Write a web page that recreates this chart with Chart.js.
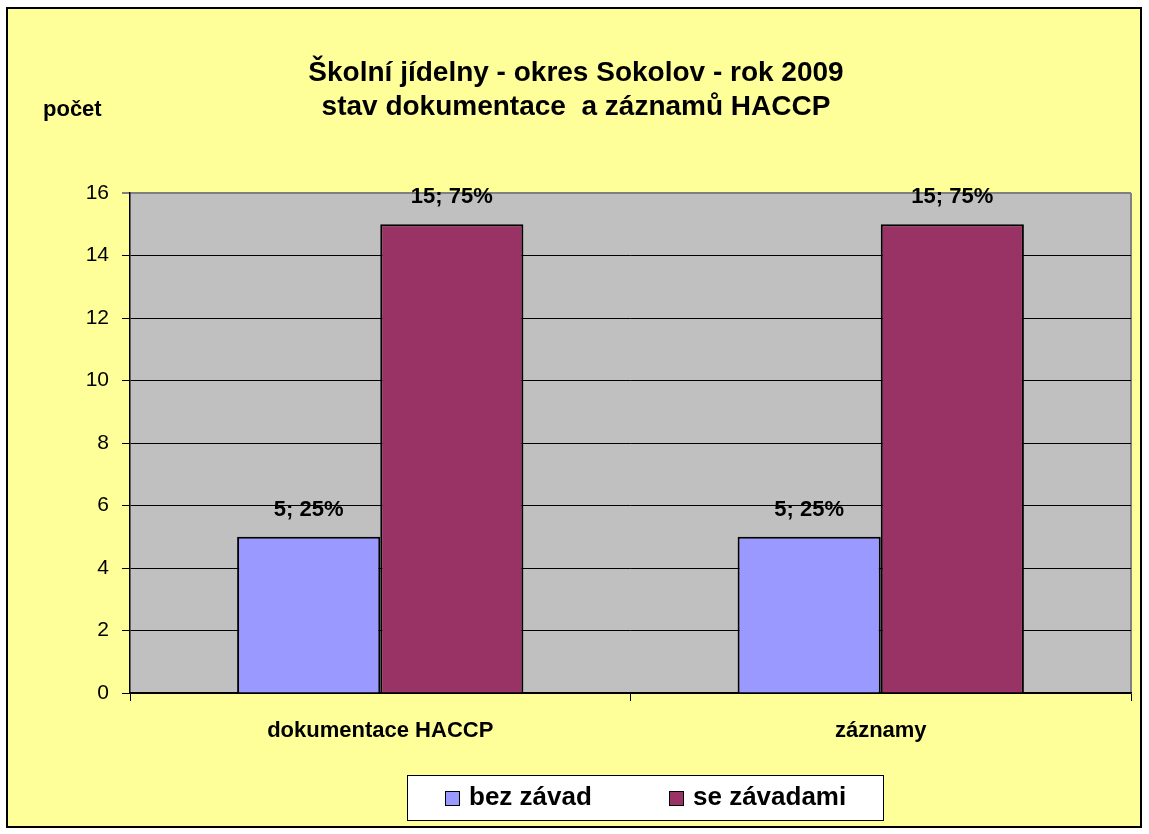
<!DOCTYPE html>
<html>
<head>
<meta charset="utf-8">
<script src="https://cdn.jsdelivr.net/npm/chart.js@4/dist/chart.umd.min.js"></script>
<style>
  html, body { margin: 0; padding: 0; background: #fff; }
  #wrap { width: 1149px; height: 834px; }
</style>
</head>
<body>
<div id="wrap"><canvas id="haccpChart" width="1149" height="834"></canvas></div>
<script>
const categories = ['dokumentace HACCP', 'záznamy'];
const bezZavad = [5, 5];
const seZavadami = [15, 15];
const yTicks = [0, 2, 4, 6, 8, 10, 12, 14, 16];
const titleLines = ['Školní jídelny - okres Sokolov - rok 2009', 'stav dokumentace  a záznamů HACCP'];
const yAxisLabel = 'počet';

const FONT = "Arial, 'Liberation Sans', sans-serif";

// background, outer frame, plot area, title and axis caption
const framePlugin = {
    id: 'frame',
    beforeDraw(chart) {
        const { ctx, chartArea: a } = chart;
        ctx.save();
        ctx.fillStyle = '#ffffff';
        ctx.fillRect(0, 0, chart.width, chart.height);
        ctx.fillStyle = '#ffff99';
        ctx.fillRect(7, 8, 1134, 819);
        ctx.strokeStyle = '#000';
        ctx.lineWidth = 2;
        ctx.strokeRect(7, 8, 1134, 819);
        ctx.fillStyle = '#c0c0c0';
        ctx.fillRect(a.left, a.top, a.right - a.left, a.bottom - a.top);
        ctx.strokeStyle = '#808080';
        ctx.lineWidth = 2;
        ctx.beginPath();
        ctx.moveTo(a.right, a.top);
        ctx.lineTo(a.right, a.bottom);
        ctx.stroke();

        ctx.fillStyle = '#000';
        ctx.textBaseline = 'middle';
        ctx.textAlign = 'center';
        ctx.font = 'bold 28px ' + FONT;
        titleLines.forEach((t, i) => ctx.fillText(t, 576, 73 + i * 34));

        ctx.font = 'bold 22px ' + FONT;
        ctx.textAlign = 'left';
        ctx.fillText(yAxisLabel, 43, 110);
        ctx.restore();
    }
};

// value labels "n; p%" and legend box
const labelPlugin = {
    id: 'labels',
    afterDatasetsDraw(chart) {
        const { ctx } = chart;
        const ds = chart.data.datasets;
        ctx.save();
        ctx.fillStyle = '#000';
        ctx.font = 'bold 22px ' + FONT;
        ctx.textAlign = 'center';
        ctx.textBaseline = 'middle';
        ds.forEach((d, i) => {
            chart.getDatasetMeta(i).data.forEach((bar, j) => {
                const total = ds.reduce((s, x) => s + x.data[j], 0);
                const pct = Math.round(d.data[j] / total * 100);
                ctx.fillText(d.data[j] + '; ' + pct + '%', bar.x, bar.y - 27);
            });
        });
        ctx.restore();
    },
    afterDraw(chart) {
        const { ctx } = chart;
        const ds = chart.data.datasets;
        ctx.save();
        ctx.fillStyle = '#fff';
        ctx.fillRect(407, 775, 476, 45);
        ctx.strokeStyle = '#000';
        ctx.lineWidth = 1;
        ctx.strokeRect(407.5, 775.5, 476, 45);
        const xs = [445, 669];
        ctx.font = 'bold 26px ' + FONT;
        ctx.textBaseline = 'middle';
        ctx.textAlign = 'left';
        ds.forEach((d, i) => {
            ctx.fillStyle = d.backgroundColor;
            ctx.fillRect(xs[i], 791, 14, 14);
            ctx.strokeStyle = '#000';
            ctx.strokeRect(xs[i] + 0.5, 791.5, 14, 14);
            ctx.fillStyle = '#000';
            ctx.fillText(d.label, xs[i] + 24, 798);
        });
        ctx.restore();
    }
};

new Chart(document.getElementById('haccpChart'), {
    type: 'bar',
    data: {
        labels: categories,
        datasets: [
            {
                label: 'bez závad',
                data: bezZavad,
                backgroundColor: '#9999ff',
                borderColor: '#000',
                borderWidth: 2
            },
            {
                label: 'se závadami',
                data: seZavadami,
                backgroundColor: '#993366',
                borderColor: '#000',
                borderWidth: 2
            }
        ]
    },
    options: {
        responsive: false,
        animation: false,
        layout: { padding: { left: 0, right: 18, top: 193, bottom: 0 } },
        datasets: {
            bar: { categoryPercentage: 0.572, barPercentage: 1 }
        },
        plugins: {
            legend: { display: false },
            tooltip: { enabled: false },
            title: { display: false }
        },
        scales: {
            x: {
                afterFit(scale) { scale.height = 141; },
                grid: {
                    offset: true,
                    drawOnChartArea: false,
                    tickLength: 8,
                    color: '#000'
                },
                border: { color: '#000', width: 1.5 },
                ticks: {
                    color: '#000',
                    padding: 17,
                    font: { family: FONT, size: 22, weight: 'bold' }
                }
            },
            y: {
                min: 0,
                max: 16,
                afterFit(scale) { scale.width = 130; },
                afterBuildTicks(scale) { scale.ticks = yTicks.map(v => ({ value: v })); },
                grid: {
                    tickLength: 8,
                    color: ctx => (ctx.tick && ctx.tick.value === 16 ? '#808080' : '#000'),
                    lineWidth: ctx => (ctx.tick && ctx.tick.value === 16 ? 2 : 1)
                },
                border: { color: '#000', width: 1.5 },
                ticks: {
                    color: '#000',
                    padding: 13,
                    font: { family: FONT, size: 21 }
                }
            }
        }
    },
    plugins: [framePlugin, labelPlugin]
});
</script>
</body>
</html>
